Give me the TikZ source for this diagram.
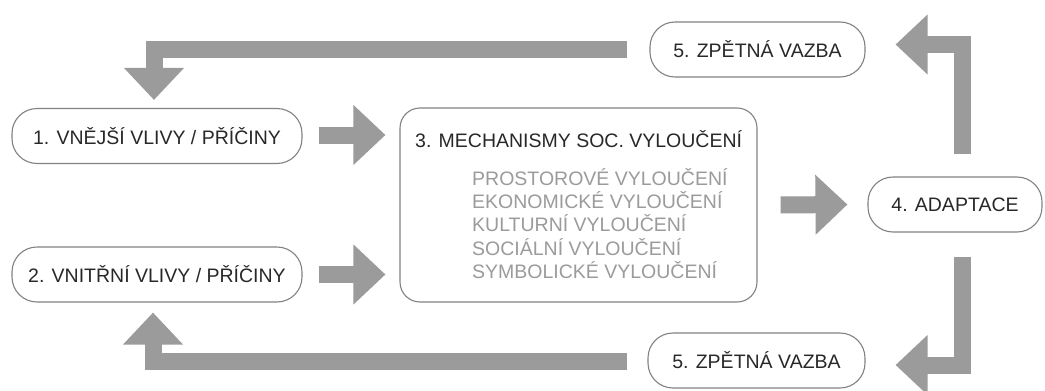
\documentclass[tikz,border=0pt]{standalone}
\usepackage{fontspec}
\setmainfont{Liberation Sans}
\usetikzlibrary{arrows.meta,calc}
\definecolor{arrowgray}{RGB}{155,155,155}
\definecolor{boxline}{RGB}{130,130,130}
\definecolor{maintext}{RGB}{40,40,40}
\definecolor{subtext}{RGB}{155,155,155}
\tikzset{
  pill/.style={draw=boxline, line width=1.1pt, rounded corners=25pt, fill=white,
    minimum height=55pt, inner sep=0pt, text=maintext,
    font=\fontsize{19.5}{23}\selectfont},
  bigbox/.style={draw=boxline, line width=1.1pt, rounded corners=20pt,
    minimum width=357pt, minimum height=194pt, inner sep=0pt},
  titletext/.style={anchor=base west, inner sep=0pt, text=maintext,
    font=\fontsize{19.5}{23}\selectfont},
  subitem/.style={anchor=base west, inner sep=0pt, text=subtext,
    font=\fontsize{19.5}{23}\selectfont},
  blockarrow/.style={draw=arrowgray, line width=17pt, line cap=butt, line join=miter,
    -{Triangle[width=58pt,length=32pt]}, arrowgray}
}
\begin{document}
\begin{tikzpicture}[x=1pt,y=-1pt]
\useasboundingbox (0,0) rectangle (1045,391);
\fill[white] (0,0) rectangle (1045,391);

\node[pill, minimum width=290pt] (b1) at (157,136) {1. VNĚJŠÍ VLIVY / PŘÍČINY};
\node[pill, minimum width=290pt] (b2) at (157,274.5) {2. VNITŘNÍ VLIVY / PŘÍČINY};
\node[bigbox] (b3) at (578.5,205) {};
\node[titletext] (t3) at (415,147) {3. MECHANISMY SOC. VYLOUČENÍ};
\node[subitem] (s1) at (472,185) {PROSTOROVÉ VYLOUČENÍ};
\node[subitem] (s2) at (472,208) {EKONOMICKÉ VYLOUČENÍ};
\node[subitem] (s3) at (472,231.5) {KULTURNÍ VYLOUČENÍ};
\node[subitem] (s4) at (472,255) {SOCIÁLNÍ VYLOUČENÍ};
\node[subitem] (s5) at (472,278) {SYMBOLICKÉ VYLOUČENÍ};
\node[pill, minimum width=174pt] (b4) at (955,204.5) {4. ADAPTACE};
\node[pill, minimum width=215pt] (b5t) at (757.5,49.5) {5. ZPĚTNÁ VAZBA};
\node[pill, minimum width=217pt] (b5b) at (756.5,360.5) {5. ZPĚTNÁ VAZBA};

% straight arrows
\draw[blockarrow] ($(b1.east)+(16,-1)$) -- ($(b3.west|-b1.east)+(-14,-1)$);
\draw[blockarrow] ($(b2.east)+(16,0)$) -- ($(b3.west|-b2.east)+(-14,0)$);
\draw[blockarrow] ($(b3.east)+(23,0)$) -- ($(b4.west)+(-20,0)$);

% right L arrows
\draw[blockarrow] ($(b4.north)+(7.5,-22)$) |- ($(b5t.east)+(30,-5)$);
\draw[blockarrow] ($(b4.south)+(7.5,24)$) |- ($(b5b.east)+(30,4.5)$);

% long feedback arrows
\draw[blockarrow] ($(b5t.west)+(-22,0)$) -| ($(b1.north)+(-3,-8)$);
\draw[blockarrow] ($(b5b.west)+(-20,1)$) -| ($(b2.south)+(-4,10)$);
\end{tikzpicture}
\end{document}
